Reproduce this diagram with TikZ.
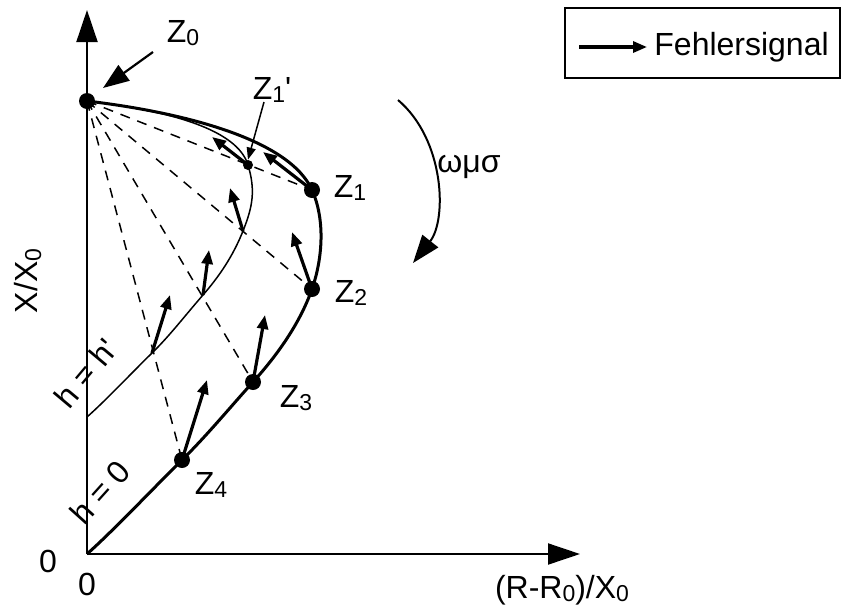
\documentclass[tikz,border=0pt]{standalone}
\usepackage{fontspec}
\setmainfont{Liberation Sans}
\usetikzlibrary{arrows.meta}
\newcommand{\lsub}[1]{\raisebox{-1.6pt}{\fontsize{11.5}{12}\selectfont #1}}
\begin{document}
\begin{tikzpicture}[x=0.5pt,y=-0.5pt,
  every node/.style={font=\fontsize{16}{19}\selectfont, inner sep=0pt},
  dot/.style={circle,fill=black,inner sep=0pt,minimum size=8pt},
  sdot/.style={circle,fill=black,inner sep=0pt,minimum size=5pt},
  axis/.style={line width=1pt,-{Triangle[length=16pt,width=10.5pt]}},
  sig/.style={line width=1.6pt,-{Triangle[length=7pt,width=5.5pt]}},
  dsh/.style={line width=0.75pt,dash pattern=on 5pt off 4pt},
  thickcurve/.style={line width=1.5pt},
  thincurve/.style={line width=0.75pt},
  note/.style={line width=1.1pt,-{Triangle[length=13pt,width=9.5pt]}},
  smallnote/.style={line width=0.75pt,-{Triangle[length=6pt,width=4.5pt]}},
  lbl/.style={anchor=center}]
\useasboundingbox (0,0) rectangle (841,611);
% axes
\coordinate (O) at (87,554);
\coordinate (Yend) at (87,10);
\coordinate (Xend) at (580,554);
\draw[axis] (O) -- (Yend);
\draw[axis] (O) -- (Xend);
% points
\coordinate (Z0c) at (87,101);
\coordinate (Z1c) at (312,190);
\coordinate (Z1pc) at (248,165);
\coordinate (Z2c) at (312,289);
\coordinate (Z3c) at (253,382);
\coordinate (Z4c) at (182,460);
\coordinate (T2) at (243,231);
\coordinate (T3) at (203,295);
\coordinate (T4) at (152,353);
\coordinate (H) at (87,417);
% dashed rays
\draw[dsh] (Z0c) -- (Z1c);
\draw[dsh] (Z0c) -- (Z2c);
\draw[dsh] (Z0c) -- (Z3c);
\draw[dsh] (Z0c) -- (Z4c);
% thick curve h = 0
\draw[thickcurve] (Z0c) .. controls (187,113) and (289.5,140) .. (Z1c)
  .. controls (325.5,220) and (322.5,259) .. (Z2c)
  .. controls (299.75,324) and (276.5,356) .. (Z3c)
  .. controls (229.5,408) and (206.9,435.5) .. (Z4c)
  .. controls (157,484.5) and (113,531) .. (O);
% thin curve h = h'
\draw[thincurve] (Z0c) .. controls (172,111) and (237.5,130) .. (Z1pc)
  .. controls (255.5,190) and (253,206) .. (T2)
  .. controls (233,256) and (219.5,276) .. (T3)
  .. controls (186.5,313.75) and (170,335.5) .. (T4)
  .. controls (134,370.5) and (105.75,400.5) .. (H);
% dots
\node[dot] (Z0) at (Z0c) {};
\node[dot] (Z1) at (Z1c) {};
\node[sdot] (Z1p) at (Z1pc) {};
\node[dot] (Z2) at (Z2c) {};
\node[dot] (Z3) at (Z3c) {};
\node[dot] (Z4) at (Z4c) {};
% error signal arrows
\coordinate (a1) at (263,152);
\coordinate (a1p) at (212,137);
\coordinate (a2) at (292,232);
\coordinate (a2t) at (230,188);
\coordinate (a3t) at (209,250);
\coordinate (a3) at (265,315);
\coordinate (a4t) at (170,295);
\coordinate (a4) at (207,380);
\draw[sig] (Z1c) -- (a1);
\draw[sig] (Z1pc) -- (a1p);
\draw[sig] (Z2c) -- (a2);
\draw[sig] (T2) -- (a2t);
\draw[sig] (T3) -- (a3t);
\draw[sig] (Z3c) -- (a3);
\draw[sig] (T4) -- (a4t);
\draw[sig] (Z4c) -- (a4);
% labels
\node[lbl] (L0) at (183,33) {Z\lsub{0}};
\coordinate (L0s) at (153,52);
\coordinate (L0e) at (103,88);
\draw[note] (L0s) -- (L0e);
\node[lbl] (L1p) at (272,90) {Z\lsub{1}\textquotesingle};
\coordinate (L1ps) at (264,102);
\draw[smallnote] (L1ps) -- (Z1p.north);
\node[lbl] (L1) at (350,188) {Z\lsub{1}};
\node[lbl] (L2) at (351,293) {Z\lsub{2}};
\node[lbl] (L3) at (296,398) {Z\lsub{3}};
\node[lbl] (L4) at (211,485) {Z\lsub{4}};
\node[lbl, rotate=50] (hh) at (86,373) {h = h\textquotesingle};
\node[lbl, rotate=48] (h0) at (100,492) {h = 0};
\node[lbl, rotate=90] (yl) at (28,281) {X/X\lsub{0}};
\node[lbl] (xl) at (562,590) {(R-R\lsub{0})/X\lsub{0}};
\node[lbl] (zy) at (48,561) {0};
\node[lbl] (zx) at (87,584) {0};
% rotation arrow
\coordinate (w1) at (398,100);
\coordinate (w2) at (413,263);
\draw[line width=1pt,-{Triangle[length=14pt,width=10pt]}] (w1) .. controls (445,140) and (447,220) .. (w2);
\node[lbl] (wms) at (469,167) {ωμσ};
% legend
\node[draw, line width=0.7pt, minimum width=137.5pt, minimum height=35pt] (leg) at (702.5,43) {};
\coordinate (ls) at (579,47);
\coordinate (le) at (647,47);
\draw[sig] (ls) -- (le);
\node[anchor=west] (legt) at (654,47) {Fehlersignal};
\end{tikzpicture}
\end{document}
